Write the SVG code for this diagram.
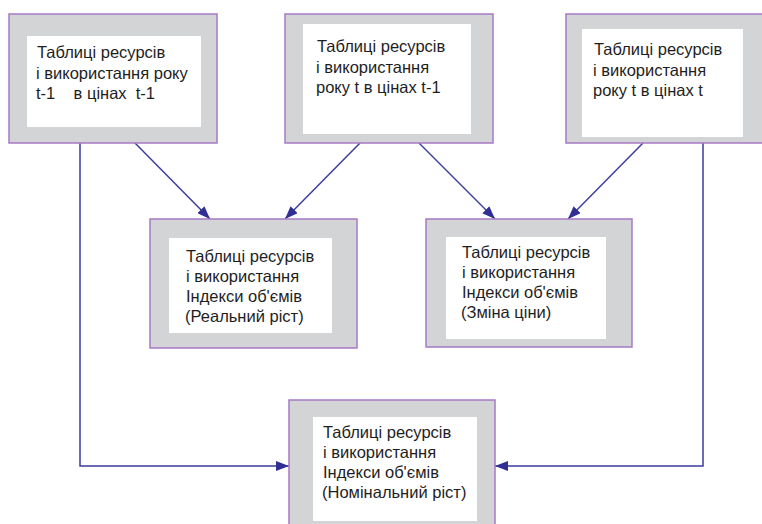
<svg xmlns="http://www.w3.org/2000/svg" width="762" height="524" viewBox="0 0 762 524">
  <style>
    .frame { fill: #d3d4d6; stroke: #a679c6; stroke-width: 1.5; }
    .panel { fill: #ffffff; stroke: none; }
    .label { font-family: "Liberation Sans", Arial, sans-serif; font-size: 16.5px; fill: #1e1e1e; white-space: pre; }
    .link { fill: none; stroke: #3d3d9e; stroke-width: 1.5; }
  </style>
  <defs>
    <marker id="arrow" markerUnits="userSpaceOnUse" markerWidth="14" markerHeight="10" refX="13" refY="5" orient="auto">
      <path d="M0,0 L13,5 L0,10 Z" fill="#2f2f96"/>
    </marker>
  </defs>

  <rect x="0" y="0" width="762" height="524" fill="#ffffff"/>

  <g id="connectors">
    <line class="link" x1="135" y1="143" x2="210" y2="219" marker-end="url(#arrow)"/>
    <line class="link" x1="360" y1="143" x2="285" y2="219" marker-end="url(#arrow)"/>
    <line class="link" x1="419" y1="143" x2="495" y2="219" marker-end="url(#arrow)"/>
    <line class="link" x1="643" y1="143" x2="568" y2="219" marker-end="url(#arrow)"/>
    <polyline class="link" points="80,143 80,466 289,466" marker-end="url(#arrow)"/>
    <polyline class="link" points="703,143 703,466 495,466" marker-end="url(#arrow)"/>
  </g>

  <g id="supply-use-prev">
    <rect class="frame" x="9" y="14" width="208" height="129"/>
    <rect class="panel" x="27" y="36" width="174" height="91"/>
    <text class="label" x="37" y="58">Таблиці ресурсів</text>
    <text class="label" x="36" y="78.5">і використання року</text>
    <text class="label" x="36" y="99">t-1    в цінах  t-1</text>
  </g>

  <g id="supply-use-current-prevprices">
    <rect class="frame" x="285" y="14" width="208" height="129"/>
    <rect class="panel" x="303" y="24" width="168" height="110"/>
    <text class="label" x="317" y="52">Таблиці ресурсів</text>
    <text class="label" x="316" y="72.5">і використання</text>
    <text class="label" x="316" y="93">року t в цінах t-1</text>
  </g>

  <g id="supply-use-current">
    <rect class="frame" x="566" y="14" width="210" height="129"/>
    <rect class="panel" x="582" y="29" width="161" height="108"/>
    <text class="label" x="594" y="55">Таблиці ресурсів</text>
    <text class="label" x="593" y="75.5">і використання</text>
    <text class="label" x="593" y="96">року t в цінах t</text>
  </g>

  <g id="volume-real">
    <rect class="frame" x="150" y="219" width="207" height="129"/>
    <rect class="panel" x="169" y="238" width="163" height="95"/>
    <text class="label" x="186" y="262">Таблиці ресурсів</text>
    <text class="label" x="186" y="282">і використання</text>
    <text class="label" x="186" y="302">Індекси об'ємів</text>
    <text class="label" x="185" y="322">(Реальний ріст)</text>
  </g>

  <g id="volume-price">
    <rect class="frame" x="426" y="219" width="206" height="128"/>
    <rect class="panel" x="446" y="237" width="160" height="102"/>
    <text class="label" x="462" y="258">Таблиці ресурсів</text>
    <text class="label" x="462" y="278">і використання</text>
    <text class="label" x="462" y="298">Індекси об'ємів</text>
    <text class="label" x="461" y="318">(Зміна ціни)</text>
  </g>

  <g id="volume-nominal">
    <rect class="frame" x="289" y="400" width="206" height="134"/>
    <rect class="panel" x="313" y="417" width="164" height="104"/>
    <text class="label" x="323" y="438">Таблиці ресурсів</text>
    <text class="label" x="323" y="458">і використання</text>
    <text class="label" x="323" y="478">Індекси об'ємів</text>
    <text class="label" x="322" y="498">(Номінальний ріст)</text>
  </g>
</svg>
